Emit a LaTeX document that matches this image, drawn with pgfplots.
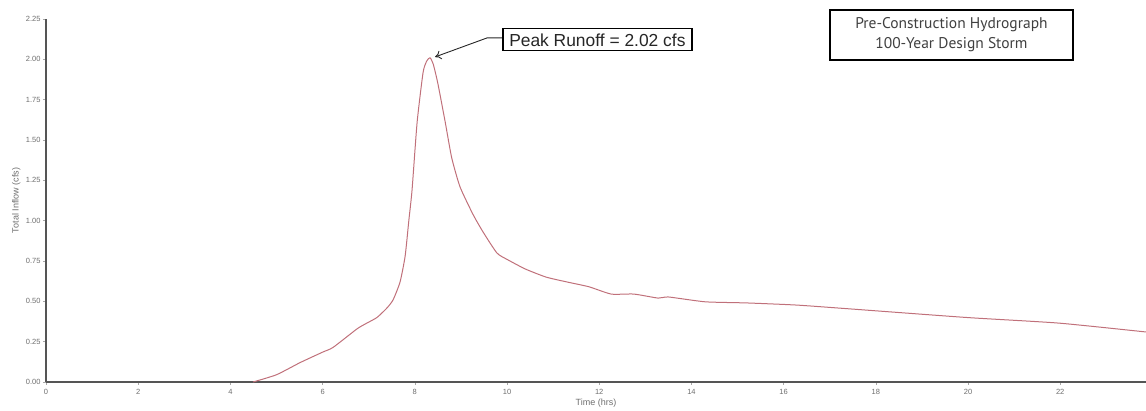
\documentclass[border=0pt]{standalone}
\usepackage{fontspec}
\setmainfont{Liberation Sans}
\newfontfamily\ptsans{PT Sans}
\usepackage{pgfplots}
\pgfplotsset{compat=1.18}
\usetikzlibrary{arrows.meta}
\definecolor{curve}{RGB}{192,112,122}
\definecolor{axisgray}{RGB}{85,85,85}
\definecolor{tickgray}{RGB}{110,110,110}
\begin{document}
\begin{tikzpicture}
\useasboundingbox (-46pt,-29pt) rectangle (1100pt,382pt);
\begin{axis}[
  scale only axis,
  width=1100pt, height=363pt,
  xmin=0, xmax=23.86, ymin=0, ymax=2.25,
  axis lines*=left,
  axis line style={draw=axisgray, line width=1.6pt},
  xtick={0,2,...,22},
  ytick={0,0.25,0.5,0.75,1,1.25,1.5,1.75,2,2.25},
  tick align=outside,
  major tick length=3pt,
  tick style={draw=tickgray!60, line width=0.6pt},
  /pgf/number format/assume math mode=true,
  ticklabel style={font=\fontsize{7.5}{8}\selectfont, text=tickgray},
  yticklabel style={/pgf/number format/fixed, /pgf/number format/zerofill, /pgf/number format/precision=2, xshift=1pt},
  xticklabel style={yshift=-1pt},
  xlabel={Time (hrs)},
  ylabel={Total Inflow (cfs)},
  label style={font=\fontsize{9}{10}\selectfont, text=tickgray},
  xlabel style={at={(axis description cs:0.5,0)}, anchor=center, yshift=-21pt},
  ylabel style={at={(axis description cs:-0.027,0.5)}, anchor=center},
  clip=false,
]
\addplot[curve, line width=1.0pt, line join=round, smooth, tension=0.35] coordinates {
(4.49,0) (5.0,0.045) (5.51,0.12) (6.0,0.185) (6.23,0.215) (6.75,0.33) (6.96,0.365)
(7.18,0.40) (7.40,0.46) (7.53,0.51) (7.68,0.62) (7.79,0.78) (7.87,1.00) (7.94,1.19)
(8.05,1.61) (8.18,1.92) (8.26,1.99) (8.33,2.01) (8.40,1.97) (8.50,1.85) (8.66,1.61)
(8.80,1.39) (8.98,1.21) (9.26,1.04) (9.48,0.93) (9.78,0.80)
(10.0,0.76) (10.4,0.70) (10.85,0.65) (11.3,0.62) (11.78,0.59) (12.26,0.545)
(12.75,0.545) (13.28,0.52) (13.5,0.527) (14.3,0.497) (15.2,0.49) (16.27,0.477)
(17.35,0.455) (19.96,0.40) (21.97,0.365) (23.86,0.31)
};
\draw[black!85, line width=0.9pt, -{To[length=6pt,width=9pt]}]
  (axis cs:9.91,2.133) -- (axis cs:9.57,2.133) -- (axis cs:8.44,2.015);
\node[draw=black, line width=1.3pt, inner sep=0pt, minimum width=189pt, minimum height=22pt,
  fill=white, font=\fontsize{17.4}{18}\selectfont, text=black!85]
  at (axis cs:11.96,2.121) {Peak Runoff = 2.02 cfs};
\node[draw=black, line width=1.4pt, inner sep=0pt, minimum width=243pt, minimum height=50pt,
  align=center, font=\ptsans\fontsize{15.5}{20}\selectfont, text=black!75]
  at (axis cs:19.64,2.151) {Pre-Construction Hydrograph\\100-Year Design Storm};
\end{axis}
\end{tikzpicture}
\end{document}
